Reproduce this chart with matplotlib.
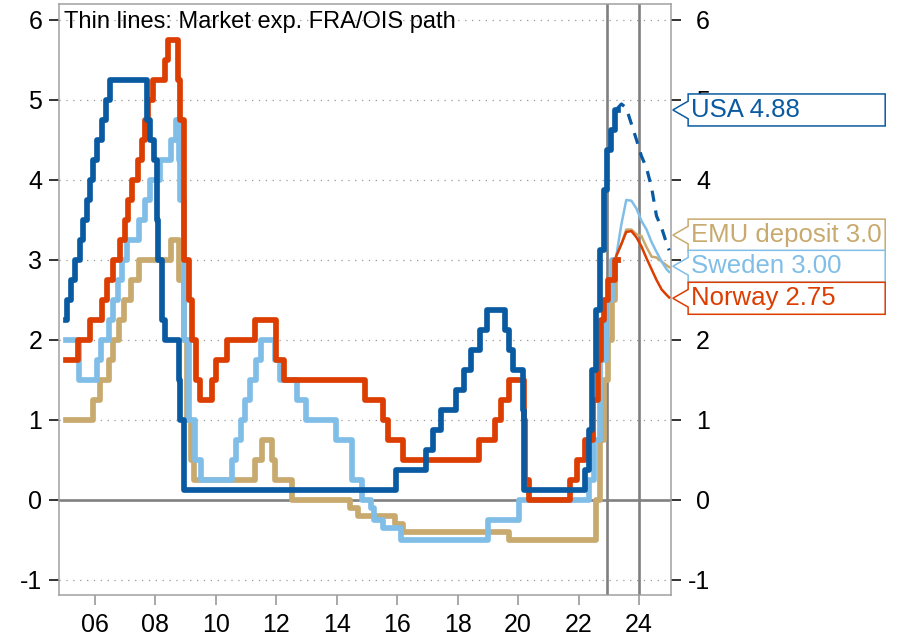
import matplotlib
matplotlib.use('Agg')
import matplotlib.pyplot as plt
from matplotlib.patches import Polygon
from matplotlib.transforms import blended_transform_factory

plt.rcParams['font.family'] = ['Liberation Sans', 'DejaVu Sans']
plt.rcParams['axes.unicode_minus'] = False

# policy rates, step changes (decimal year, rate in %)
usa_dates = [2005.05, 2005.09, 2005.22, 2005.33, 2005.49, 2005.60, 2005.72, 2005.83, 2005.95,
             2006.08, 2006.24, 2006.36, 2006.49, 2007.71, 2007.83, 2007.94, 2008.06, 2008.08,
             2008.21, 2008.33, 2008.77, 2008.83, 2008.96, 2015.96, 2016.95, 2017.20, 2017.45,
             2017.95, 2018.22, 2018.45, 2018.73, 2018.97, 2019.58, 2019.71, 2019.83, 2020.17,
             2020.20, 2022.20, 2022.34, 2022.45, 2022.57, 2022.72, 2022.84, 2022.95, 2023.08,
             2023.22]
usa_rate = [2.25, 2.5, 2.75, 3.0, 3.25, 3.5, 3.75, 4.0, 4.25,
            4.5, 4.75, 5.0, 5.25, 4.75, 4.5, 4.25, 3.5, 3.0,
            2.25, 2.0, 1.5, 1.0, 0.125, 0.375, 0.625, 0.875, 1.125,
            1.375, 1.625, 1.875, 2.125, 2.375, 2.125, 1.875, 1.625, 1.125,
            0.125, 0.375, 0.875, 1.625, 2.375, 3.125, 3.875, 4.375, 4.625,
            4.875]

emu_dates = [2005.05, 2005.93, 2006.18, 2006.45, 2006.61, 2006.78, 2006.95, 2007.20, 2007.45,
             2008.52, 2008.77, 2008.94, 2009.05, 2009.19, 2009.27, 2011.28, 2011.53, 2011.86,
             2011.95, 2012.52, 2014.44, 2014.69, 2015.94, 2016.20, 2019.71, 2022.57, 2022.70,
             2022.84, 2022.97, 2023.11, 2023.22]
emu_rate = [1.0, 1.25, 1.5, 1.75, 2.0, 2.25, 2.5, 2.75, 3.0,
            3.25, 2.75, 2.0, 1.0, 0.5, 0.25, 0.5, 0.75, 0.5,
            0.25, 0.0, -0.1, -0.2, -0.3, -0.4, -0.5, 0.0, 0.75,
            1.5, 2.0, 2.5, 3.0]

swe_dates = [2005.05, 2005.47, 2006.07, 2006.20, 2006.47, 2006.60, 2006.75, 2006.90, 2007.05,
             2007.47, 2007.65, 2007.82, 2008.15, 2008.52, 2008.69, 2008.77, 2008.82, 2008.94,
             2009.12, 2009.30, 2009.52, 2010.52, 2010.68, 2010.82, 2010.96, 2011.13, 2011.32,
             2011.51, 2011.97, 2012.13, 2012.70, 2012.97, 2013.97, 2014.52, 2014.83, 2015.13,
             2015.23, 2015.52, 2016.13, 2019.02, 2020.02, 2022.34, 2022.51, 2022.72, 2022.91,
             2023.12]
swe_rate = [2.0, 1.5, 1.75, 2.0, 2.25, 2.5, 2.75, 3.0, 3.25,
            3.5, 3.75, 4.0, 4.25, 4.5, 4.75, 4.25, 3.75, 2.0,
            1.0, 0.5, 0.25, 0.5, 0.75, 1.0, 1.25, 1.5, 1.75,
            2.0, 1.75, 1.5, 1.25, 1.0, 0.75, 0.25, 0.0, -0.1,
            -0.25, -0.35, -0.5, -0.25, 0.0, 0.25, 0.75, 1.75, 2.5,
            3.0]

nor_dates = [2005.05, 2005.44, 2005.83, 2006.23, 2006.40, 2006.60, 2006.83, 2006.99, 2007.09,
             2007.22, 2007.42, 2007.56, 2007.65, 2007.75, 2007.92, 2008.32, 2008.42, 2008.75,
             2008.80, 2008.95, 2009.10, 2009.20, 2009.35, 2009.47, 2009.87, 2010.00, 2010.37,
             2011.30, 2012.00, 2012.25, 2014.95, 2015.53, 2015.70, 2016.20, 2018.70, 2019.22,
             2019.45, 2019.70, 2020.20, 2020.22, 2020.37, 2021.72, 2021.96, 2022.23, 2022.48,
             2022.64, 2022.73, 2022.84, 2022.96, 2023.22]
nor_rate = [1.75, 2.0, 2.25, 2.5, 2.75, 3.0, 3.25, 3.5, 3.75,
            4.0, 4.25, 4.5, 4.75, 5.0, 5.25, 5.5, 5.75, 5.25,
            4.75, 3.0, 2.5, 2.0, 1.5, 1.25, 1.5, 1.75, 2.0,
            2.25, 1.75, 1.5, 1.25, 1.0, 0.75, 0.5, 0.75, 1.0,
            1.25, 1.5, 1.0, 0.25, 0.0, 0.25, 0.5, 0.75, 1.25,
            1.75, 2.25, 2.5, 2.75, 3.0]
data_end = 2023.30

# market expectations (FRA/OIS)
fc_dates = [2023.25, 2023.42, 2023.58, 2023.75, 2023.92, 2024.08, 2024.25, 2024.42,
            2024.58, 2024.75, 2024.92, 2025.0]
usa_fc = [4.88, 4.95, 4.90, 4.70, 4.50, 4.30, 4.15, 3.90, 3.55, 3.40, 3.20, 3.12]
emu_fc = [3.05, 3.20, 3.38, 3.38, 3.32, 3.30, 3.16, 3.04, 3.03, 2.98, 2.93, 2.91]
swe_fc = [3.05, 3.45, 3.75, 3.74, 3.64, 3.49, 3.38, 3.22, 3.10, 2.98, 2.88, 2.85]
nor_fc = [3.05, 3.20, 3.35, 3.36, 3.28, 3.17, 3.02, 2.88, 2.75, 2.63, 2.56, 2.53]

labels = ['USA 4.88', 'EMU deposit 3.0', 'Sweden 3.00', 'Norway 2.75']
label_y = [4.875, 3.31, 2.92, 2.52]

c_usa = '#0a5aa2'
c_emu = '#c8aa6e'
c_swe = '#80bee8'
c_nor = '#dc3d00'

xticks = list(range(2006, 2025, 2))
xticklabels = ['%02d' % (y % 100) for y in xticks]

fig = plt.figure(figsize=(9.01, 6.37), dpi=100)
ax = fig.add_axes([59 / 901, 42 / 637, 612 / 901, 591 / 637])

# right-hand axis (ticks only), drawn underneath the main axes so the labels boxes cover it
ax2 = ax.twinx()
ax.set_zorder(ax2.get_zorder() + 1)
ax.patch.set_visible(False)

ax.set_xlim(2004.81, 2025.06)
ax.set_ylim(-1.19, 6.2)

for g in [-1, 1, 2, 3, 4, 5, 6]:
    ax.axhline(g, color='#999999', lw=0.9, ls=(0, (1, 4.5)), zorder=0)
ax.axhline(0, color='#808080', lw=1.9, zorder=1)
ax.axvline(2022.95, color='#808080', lw=1.9, zorder=1)
ax.axvline(2024.0, color='#808080', lw=1.9, zorder=1)

series = [(emu_dates, emu_rate, emu_fc, c_emu),
          (swe_dates, swe_rate, swe_fc, c_swe),
          (nor_dates, nor_rate, nor_fc, c_nor),
          (usa_dates, usa_rate, usa_fc, c_usa)]
for i, (d, r, fc, col) in enumerate(series):
    ax.step(d + [data_end], r + [r[-1]], where='post', color=col, lw=4.1, zorder=3 + i)
    if col == c_usa:
        ax.plot(fc_dates, fc, color=col, lw=2.3, ls=(0, (3.5, 2.8)), zorder=3 + i)
    else:
        ax.plot(fc_dates, fc, color=col, lw=1.8, zorder=3 + i)

ax.text(0.008, 0.988, 'Thin lines: Market exp. FRA/OIS path', transform=ax.transAxes,
        ha='left', va='top', fontsize=17)

ax.set_xticks(xticks)
ax.set_xticklabels(xticklabels)
ax.set_yticks(range(-1, 7))
ax.tick_params(axis='x', length=7, width=1.2, color='#999999', pad=6, labelsize=18)
ax.tick_params(axis='y', length=7, width=1.3, color='#222222', pad=5, labelsize=18)
for s in ax.spines.values():
    s.set_color('#a0a0a0')
    s.set_linewidth(1.1)

ax2.set_ylim(ax.get_ylim())
ax2.set_yticks(range(-1, 7))
ax2.tick_params(axis='y', length=7, width=1.3, color='#222222', pad=21, labelsize=18)
for lab in ax2.get_yticklabels():
    lab.set_horizontalalignment('right')
for s in ax2.spines.values():
    s.set_visible(False)

# labels with callout pointer at the right edge
tr = blended_transform_factory(ax.transAxes, ax.transData)
x0, x1, xt = 1.028, 1.350, 1.003
h, w = 0.2, 0.11
for txt, yc, col in zip(labels, label_y, [c_usa, c_emu, c_swe, c_nor]):
    pts = [(x0, yc + w), (x0, yc + h), (x1, yc + h), (x1, yc - h), (x0, yc - h),
           (x0, yc - w), (xt, yc)]
    ax.add_patch(Polygon(pts, closed=True, transform=tr, facecolor='white', edgecolor=col,
                         lw=1.1, clip_on=False, zorder=10))
    ax.text(x0 + 0.004, yc, txt, transform=tr, color=col, fontsize=18.5, ha='left',
            va='center', zorder=11, clip_on=False)

fig.savefig('out.png', dpi=100)
